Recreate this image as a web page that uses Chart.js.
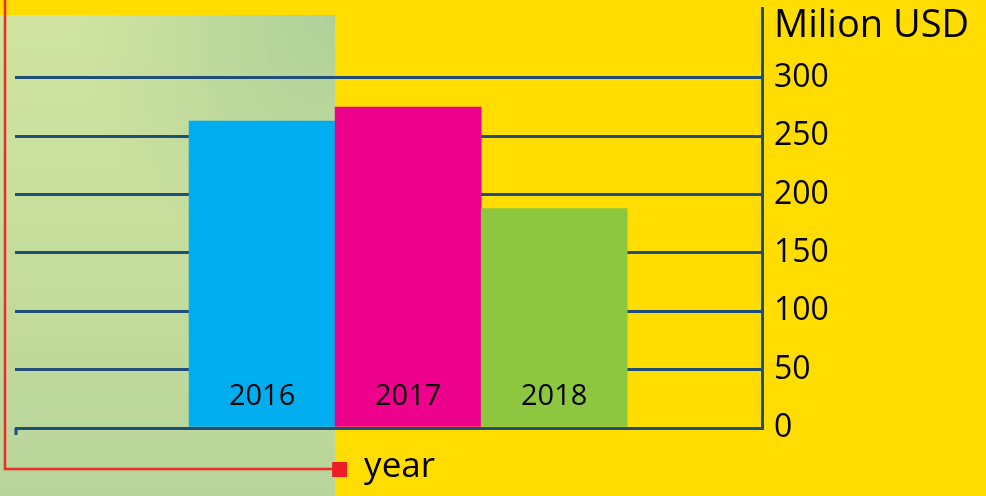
<!DOCTYPE html>
<html>
<head>
<meta charset="utf-8">
<script src="https://cdn.jsdelivr.net/npm/chart.js@4/dist/chart.umd.min.js"></script>
<style>
  body { margin: 0; background: #FFDD00; }
  #wrap { width: 986px; height: 496px; }
</style>
</head>
<body>
<div id="wrap"><canvas id="barChart" width="986" height="496"></canvas></div>
<script>
// chart data
const years = ['2016', '2017', '2018'];
const revenue = [263, 275, 188];
const barColors = ['#00AEEF', '#EC008C', '#8DC63F'];
const yTicks = [0, 50, 100, 150, 200, 250, 300];
const unitLabel = 'Milion USD';
const axisLabel = 'year';

const FONT = '"Open Sans", "Noto Sans", sans-serif';
const LINE = '#1F4E79';

// background + green panel behind the first bar
const backgroundPlugin = {
  id: 'background',
  beforeDraw(chart) {
    const ctx = chart.ctx;
    const x = chart.scales.x;
    const h = chart.height;
    ctx.save();
    ctx.fillStyle = '#FFDD00';
    ctx.fillRect(0, 0, chart.width, h);
    const right = x.getPixelForValue(0.5);
    // light at the top, slightly darker lower down
    const grad = ctx.createLinearGradient(0, 15, 0, h);
    grad.addColorStop(0, '#D1E4A1');
    grad.addColorStop(0.5, '#C5DD9C');
    grad.addColorStop(1, '#B8D59B');
    ctx.fillStyle = grad;
    ctx.fillRect(0, 15, right, h - 15);
    // darker towards the top right corner
    const side = ctx.createRadialGradient(right, 15, 0, right, 15, 260);
    side.addColorStop(0, 'rgba(160,200,150,0.7)');
    side.addColorStop(1, 'rgba(160,200,150,0)');
    ctx.fillStyle = side;
    ctx.fillRect(0, 15, right, h - 15);
    ctx.restore();
  }
};

// years inside bars, title, red bracket and "year" label
const labelsPlugin = {
  id: 'labels',
  afterDraw(chart) {
    const ctx = chart.ctx;
    const x = chart.scales.x;
    const area = chart.chartArea;
    ctx.save();

    ctx.fillStyle = '#000';
    ctx.font = '29px ' + FONT;
    ctx.textAlign = 'center';
    ctx.textBaseline = 'middle';
    years.forEach((yr, i) => {
      ctx.fillText(yr, x.getPixelForValue(i), area.bottom - 31);
    });

    // unit title
    ctx.textAlign = 'left';
    ctx.font = '38px ' + FONT;
    ctx.fillText(unitLabel, area.right + 12, 26);

    // small tick at the left end of the x axis
    ctx.strokeStyle = LINE;
    ctx.lineWidth = 3;
    ctx.beginPath();
    ctx.moveTo(area.left + 1, area.bottom);
    ctx.lineTo(area.left + 1, area.bottom + 7);
    ctx.stroke();

    // red bracket
    const panelRight = x.getPixelForValue(0.5);
    const yy = 469;
    ctx.strokeStyle = '#EE2A2A';
    ctx.lineWidth = 2.5;
    ctx.beginPath();
    ctx.moveTo(5, 0);
    ctx.lineTo(5, yy);
    ctx.lineTo(panelRight, yy);
    ctx.stroke();
    ctx.fillStyle = '#EE1C25';
    ctx.fillRect(panelRight - 3, yy - 7, 15, 15);

    ctx.fillStyle = '#000';
    ctx.font = '35px ' + FONT;
    ctx.textBaseline = 'alphabetic';
    ctx.fillText(axisLabel, panelRight + 29, 477);
    ctx.restore();
  }
};

const barData = {
  datasets: [{
    data: revenue.map((v, i) => ({x: i, y: v})),
    backgroundColor: barColors,
    borderWidth: 0,
    barPercentage: 1,
    categoryPercentage: 1,
  }],
};

const barConfig = {
  type: 'bar',
  data: barData,
  plugins: [backgroundPlugin, labelsPlugin],
  options: {
    responsive: false,
    animation: false,
    layout: { padding: { left: 15, top: 8, bottom: 68, right: 0 } },
    plugins: { legend: { display: false }, tooltip: { enabled: false } },
    scales: {
      x: {
        type: 'linear',
        min: -1.692,
        max: 3.423,
        offset: false,
        display: false,
        afterBuildTicks(scale) {
          // only the bar positions, so the bar width comes from their spacing
          scale.ticks = years.map((y, i) => ({value: i}));
        },
      },
      y: {
        position: 'right',
        min: 0,
        max: 360,
        afterBuildTicks(scale) {
          scale.ticks = yTicks.map(v => ({value: v}));
        },
        afterFit(scale) {
          scale.width = 224;
          scale.paddingTop = 0;
          scale.paddingBottom = 0;
        },
        grid: { color: LINE, lineWidth: 3, drawTicks: false },
        border: { color: LINE, width: 3 },
        ticks: {
          color: '#000',
          padding: 12,
          font: { family: FONT, size: 32 },
        },
      },
    },
  },
};

new Chart(document.getElementById('barChart'), barConfig);
</script>
</body>
</html>
